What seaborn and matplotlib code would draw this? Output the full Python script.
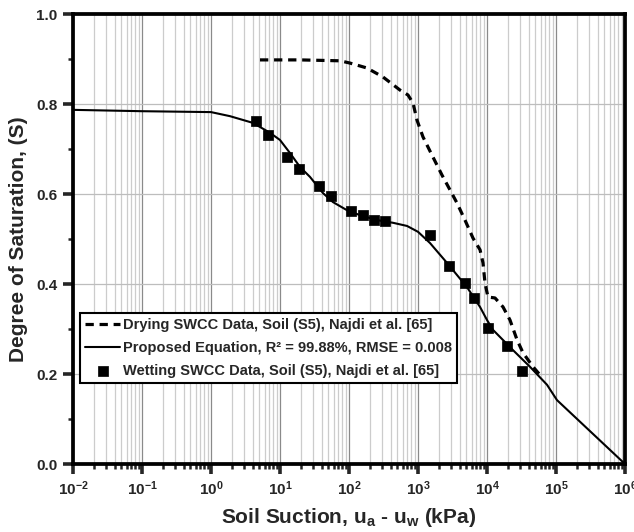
import numpy as np
import pandas as pd
import matplotlib
matplotlib.use("Agg")
import matplotlib.pyplot as plt
import seaborn as sns
from matplotlib.ticker import LogLocator, FixedLocator, FuncFormatter, NullFormatter

sns.set_style("ticks")
plt.rcParams['font.family'] = ['Liberation Sans', 'DejaVu Sans']
plt.rcParams['font.weight'] = 'bold'
plt.rcParams['mathtext.fontset'] = 'custom'
plt.rcParams['mathtext.rm'] = 'Liberation Sans:bold'
plt.rcParams['mathtext.bf'] = 'Liberation Sans:bold'
plt.rcParams['mathtext.it'] = 'Liberation Sans:bold:italic'

# Drying SWCC data (dashed)
dry_suction = [5.13, 19.5, 74.1, 103, 182, 311, 548, 716, 847, 968, 1180, 1648, 2228,
               2911, 3673, 4797, 6266, 7925, 8750, 9354, 10330, 13060, 17060, 21530,
               27230, 33270, 46450, 58610]
dry_S = [0.898, 0.898, 0.896, 0.891, 0.880, 0.860, 0.831, 0.820, 0.802, 0.764, 0.727,
         0.682, 0.642, 0.609, 0.580, 0.542, 0.502, 0.476, 0.447, 0.402, 0.371, 0.369,
         0.349, 0.320, 0.276, 0.247, 0.216, 0.198]

# Proposed equation (solid)
fit_suction = [0.01, 0.1, 1, 1.88, 4.06, 7.16, 10, 13.96, 19.5, 27.2, 42.0, 58.6, 93.5,
               144, 255, 435, 693, 1000, 1493, 2630, 5130, 7925, 10000, 12220, 23820,
               41980, 74130, 103300, 1000000]
fit_S = [0.787, 0.784, 0.782, 0.773, 0.758, 0.736, 0.720, 0.691, 0.660, 0.638, 0.602,
         0.582, 0.564, 0.553, 0.542, 0.536, 0.529, 0.516, 0.491, 0.447, 0.393, 0.349,
         0.320, 0.298, 0.253, 0.216, 0.176, 0.142, 0.0]

# Wetting SWCC data (squares)
wet_suction = [4.49, 6.70, 12.6, 18.8, 36.7, 54.8, 107, 160, 230, 333, 1493, 2813, 4797,
               6486, 10330, 19500, 32140]
wet_S = [0.762, 0.731, 0.682, 0.656, 0.618, 0.596, 0.562, 0.553, 0.542, 0.540, 0.509,
         0.440, 0.402, 0.369, 0.302, 0.262, 0.207]

labels = ["Drying SWCC Data, Soil (S5), Najdi et al. [65]",
          "Proposed Equation, R\u00b2 = 99.88%, RMSE = 0.008",
          "Wetting SWCC Data, Soil (S5), Najdi et al. [65]"]

dry = pd.DataFrame({"x": dry_suction, "y": dry_S})
fit = pd.DataFrame({"x": fit_suction, "y": fit_S})
wet = pd.DataFrame({"x": wet_suction, "y": wet_S})

fig = plt.figure(figsize=(6.34, 5.32), dpi=100)
ax = fig.add_axes([73/634, 1-464/532, (625-73)/634, (464-14)/532])

sns.lineplot(data=dry, x="x", y="y", ax=ax, color="black", lw=2.3,
             linestyle=(0, (2.6, 1.8)), label=labels[0], sort=False, zorder=3)
sns.lineplot(data=fit, x="x", y="y", ax=ax, color="black", lw=1.5,
             label=labels[1], sort=False, zorder=3)
sns.scatterplot(data=wet, x="x", y="y", ax=ax, color="black", marker="s", s=55,
                edgecolor="black", linewidth=0.5, label=labels[2], zorder=4)

ax.set_xscale("log")
ax.set_xlim(1e-2, 1e6)
ax.set_ylim(0.0, 1.0)

ax.xaxis.set_major_locator(LogLocator(base=10, numticks=20))
ax.xaxis.set_minor_locator(LogLocator(base=10, subs=np.arange(2, 10), numticks=100))
ax.xaxis.set_minor_formatter(NullFormatter())
ax.xaxis.set_major_formatter(FuncFormatter(lambda v, p: r"$\mathbf{10^{%d}}$" % int(round(np.log10(v)))))
ax.yaxis.set_major_locator(FixedLocator([0.0, 0.2, 0.4, 0.6, 0.8, 1.0]))
ax.yaxis.set_minor_locator(FixedLocator([0.1, 0.3, 0.5, 0.7, 0.9]))
ax.yaxis.set_major_formatter(FuncFormatter(lambda v, p: "%.1f" % v))

ax.grid(which="major", axis="x", color="#8a8a8a", lw=0.9)
ax.grid(which="minor", axis="x", color="#cccccc", lw=0.9)
ax.grid(which="major", axis="y", color="#bdbdbd", lw=0.9)
ax.set_axisbelow(True)

for s in ax.spines.values():
    s.set_linewidth(2.7)
    s.set_color("black")

ax.tick_params(which="major", direction="out", length=7, width=2.6, labelsize=11, pad=4)
ax.tick_params(which="minor", direction="out", length=3.5, width=1.8)
for t in ax.get_xticklabels() + ax.get_yticklabels():
    t.set_fontweight("bold")

ax.set_xlabel(r"Soil Suction, u$_\mathbf{a}$ - u$_\mathbf{w}$ (kPa)", fontsize=15, fontweight="bold", labelpad=6)
ax.set_ylabel("Degree of Saturation, (S)", fontsize=15, fontweight="bold", labelpad=6)

leg = ax.legend(loc="lower left", bbox_to_anchor=(0.0127, 0.18), fontsize=10.5,
                frameon=True, fancybox=False, edgecolor="black", framealpha=1,
                handlelength=2.4, borderpad=0.35, labelspacing=0.6, handletextpad=0.2,
                borderaxespad=0)
leg.get_frame().set_linewidth(1.5)
for t in leg.get_texts():
    t.set_fontweight("bold")

fig.savefig("out.png", dpi=100)
